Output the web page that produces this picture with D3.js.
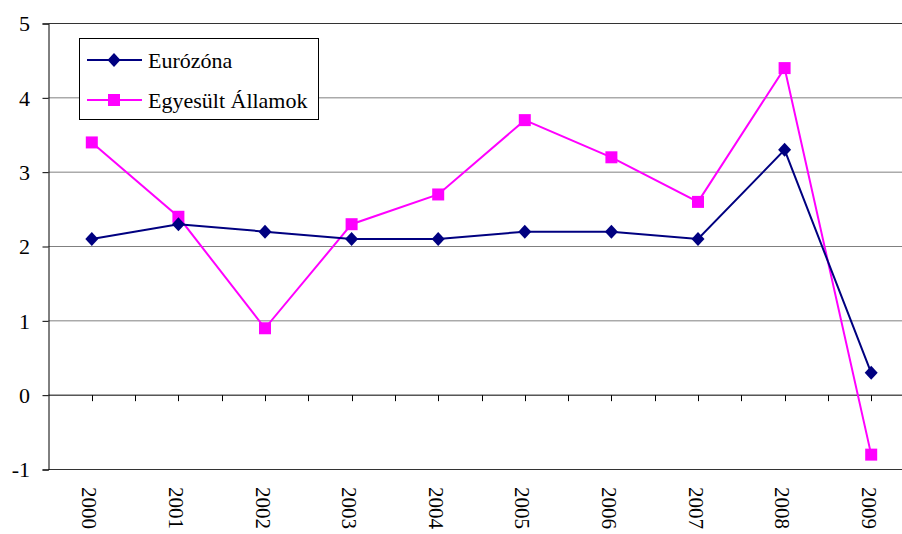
<!DOCTYPE html>
<html><head><meta charset="utf-8">
<script src="https://cdn.jsdelivr.net/npm/d3@7"></script>
</head><body style="margin:0;padding:0;background:#fff;overflow:hidden">
<svg id="c" width="902" height="534"></svg>
<script>
const years = ["2000","2001","2002","2003","2004","2005","2006","2007","2008","2009"];
const eurozone = [2.1, 2.3, 2.2, 2.1, 2.1, 2.2, 2.2, 2.1, 3.3, 0.3];
const usa = [3.4, 2.4, 0.9, 2.3, 2.7, 3.7, 3.2, 2.6, 4.4, -0.8];
const yTicks = [-1, 0, 1, 2, 3, 4, 5];
const seriesNames = ["Eurózóna", "Egyesült Államok"];

const FONT = '"Times New Roman"';
const svg = d3.select("#c");
const x = d3.scaleBand().domain(years).range([48.5, 914.5]);
const y = d3.scaleLinear().domain([-1, 5]).range([469.5, 23.5]);
const cx = d => x(d) + x.bandwidth() / 2;

// gridlines
svg.append("g").selectAll("line").data(yTicks.filter(t => t !== 0)).join("line")
  .attr("x1", 48.5).attr("x2", 902).attr("y1", d => y(d)).attr("y2", d => y(d))
  .attr("stroke", d => (d === 5 || d === -1) ? "#333" : "#808080").attr("stroke-width", 1);

// y axis (lines via d3.axisLeft; labels drawn as plain text from the same scale)
const yAxis = d3.axisLeft(y).tickValues(yTicks).tickSize(6).tickFormat("");
const ya = svg.append("g").attr("transform", "translate(48.5,0)").call(yAxis);
ya.select(".domain").attr("stroke", "#000");
ya.selectAll(".tick line").attr("stroke", "#000");
ya.selectAll(".tick text").remove();
svg.selectAll("text.ylab").data(yTicks).join("text").attr("class", "ylab")
  .attr("x", 30).attr("y", d => y(d)).attr("dy", "0.35em").attr("text-anchor", "end")
  .style("font-family", FONT).attr("font-size", 22).attr("fill", "#000")
  .text(d => String(d));

// zero line (category axis)
svg.append("line").attr("x1", 48.5).attr("x2", 902).attr("y1", y(0)).attr("y2", y(0))
  .attr("stroke", "#000").attr("stroke-width", 1);
// ticks at category centers and boundaries
const tickPos = [];
years.forEach(d => { tickPos.push(x(d)); tickPos.push(cx(d)); });
svg.append("g").selectAll("line").data(tickPos.slice(1)).join("line")
  .attr("x1", d => Math.round(d) + 0.5).attr("x2", d => Math.round(d) + 0.5)
  .attr("y1", y(0)).attr("y2", y(0) + 6).attr("stroke", "#000");

// year labels (rotated)
svg.selectAll("text.xlab").data(years).join("text").attr("class", "xlab")
  .attr("transform", d => `translate(${cx(d) - 2},487) rotate(90)`)
  .attr("dy", "0.35em")
  .style("font-family", FONT).attr("font-size", 21).attr("fill", "#000")
  .text(d => d);

const line = d3.line().x((d, i) => cx(years[i])).y(d => y(d));
const diamond = "M0,-7L6.5,0L0,7L-6.5,0Z";
const square = "M-6,-6H6V6H-6Z";

function drawSeries(vals, color, marker) {
  svg.append("path").datum(vals).attr("d", line).attr("fill", "none")
    .attr("stroke", color).attr("stroke-width", 2);
  svg.append("g").selectAll("path").data(vals).join("path")
    .attr("transform", (d, i) => `translate(${cx(years[i])},${y(d)})`)
    .attr("d", marker).attr("fill", color);
}
drawSeries(usa, "#FF00FF", square);
drawSeries(eurozone, "#000080", diamond);

// legend
svg.append("rect").attr("x", 79.5).attr("y", 38.5).attr("width", 239).attr("height", 81)
  .attr("fill", "#fff").attr("stroke", "#000").attr("stroke-width", 1);
const items = [{name: seriesNames[0], color: "#000080", m: diamond, yy: 60},
               {name: seriesNames[1], color: "#FF00FF", m: square, yy: 100}];
items.forEach(it => {
  svg.append("line").attr("x1", 87).attr("x2", 142).attr("y1", it.yy).attr("y2", it.yy)
    .attr("stroke", it.color).attr("stroke-width", 2);
  svg.append("path").attr("transform", `translate(114,${it.yy})`).attr("d", it.m).attr("fill", it.color);
});
svg.selectAll("text.leg").data(items).join("text").attr("class", "leg")
  .attr("x", 148).attr("y", d => d.yy).attr("dy", "0.35em")
  .style("font-family", FONT).attr("font-size", 22).attr("fill", "#000").text(d => d.name);
</script>
</body></html>
